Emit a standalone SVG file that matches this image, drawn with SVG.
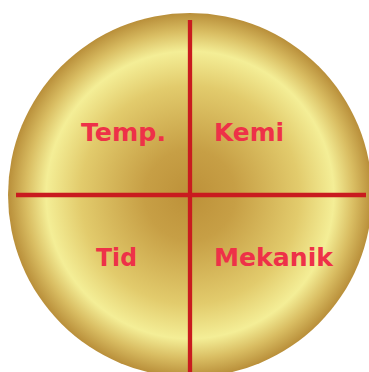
<svg xmlns="http://www.w3.org/2000/svg" width="369" height="372" viewBox="0 0 369 372">
<defs>
<radialGradient id="gold" cx="190" cy="195" r="182" gradientUnits="userSpaceOnUse">
<stop offset="0" stop-color="#bd9139"/>
<stop offset="0.25" stop-color="#c79f45"/>
<stop offset="0.6" stop-color="#e2cb6c"/>
<stop offset="0.79" stop-color="#f4ee96"/>
<stop offset="0.9" stop-color="#d9bd62"/>
<stop offset="1" stop-color="#b98f3a"/>
</radialGradient>
<style>
.lbl{font-family:"DejaVu Sans","Liberation Sans",sans-serif;font-weight:700;font-size:25px;fill:#ee3148;}
.ln{stroke:#c91b1f;stroke-width:4.3;fill:none;}
</style>
</defs>
<g id="disc"><circle cx="190" cy="195" r="182" fill="url(#gold)"/></g>
<g id="connectors">
<line class="ln" x1="190" y1="20" x2="190" y2="372"/>
<line class="ln" x1="16" y1="195" x2="366" y2="195"/>
</g>
<g id="temp"><text class="lbl" x="81" y="141" textLength="85" lengthAdjust="spacingAndGlyphs">Temp.</text></g>
<g id="kemi"><text class="lbl" x="214" y="141" textLength="70" lengthAdjust="spacingAndGlyphs">Kemi</text></g>
<g id="tid"><text class="lbl" x="96" y="266" textLength="41" lengthAdjust="spacingAndGlyphs">Tid</text></g>
<g id="mekanik"><text class="lbl" x="214" y="266" textLength="119" lengthAdjust="spacingAndGlyphs">Mekanik</text></g>
</svg>
